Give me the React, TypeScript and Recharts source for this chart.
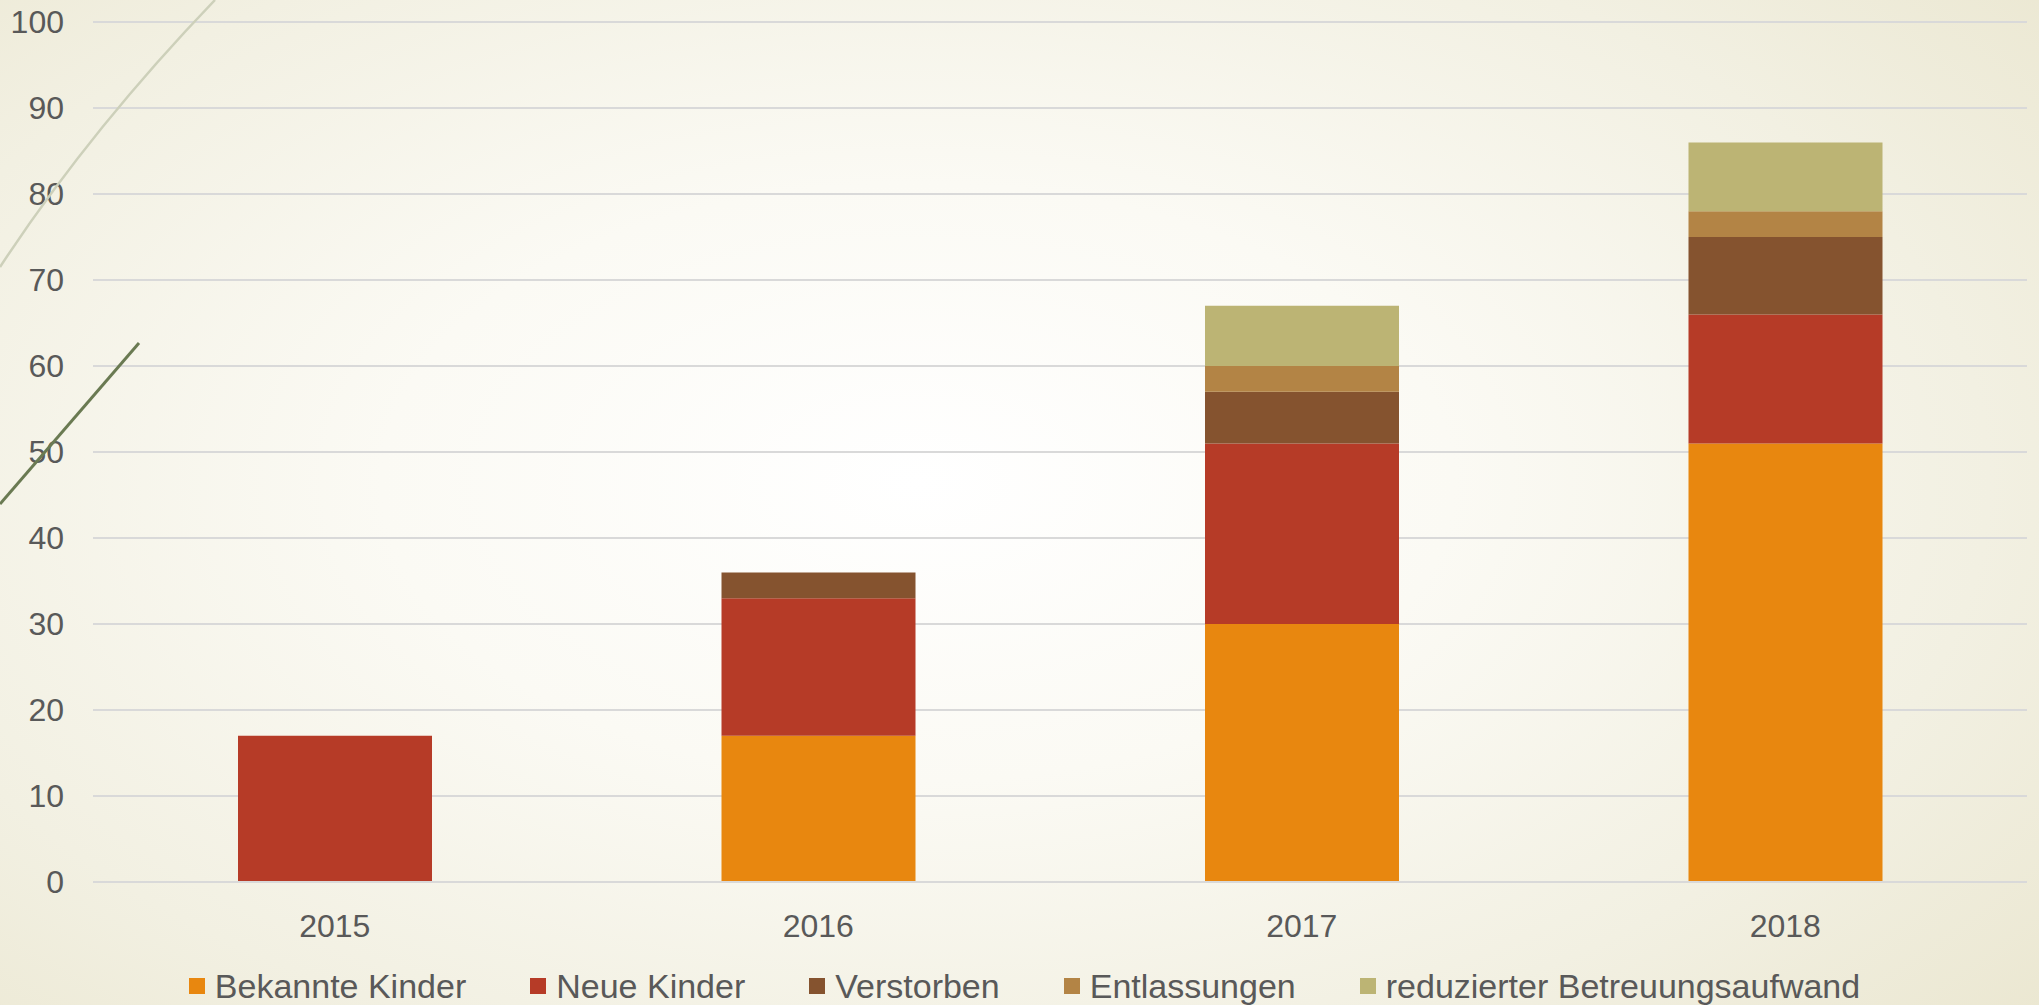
import React from "react";
import { Bar, BarChart, CartesianGrid, Legend, XAxis, YAxis } from "recharts";

const years = ["2015", "2016", "2017", "2018"];
const bekannteKinder = [0, 17, 30, 51];
const neueKinder = [17, 16, 21, 15];
const verstorben = [0, 3, 6, 9];
const entlassungen = [0, 0, 3, 3];
const reduziert = [0, 0, 7, 8];
const yTicks = [0, 10, 20, 30, 40, 50, 60, 70, 80, 90, 100];

const series = [
  { key: "bekannte", name: "Bekannte Kinder", color: "#E8870F", values: bekannteKinder },
  { key: "neue", name: "Neue Kinder", color: "#B63B27", values: neueKinder },
  { key: "verstorben", name: "Verstorben", color: "#85532F", values: verstorben },
  { key: "entlassungen", name: "Entlassungen", color: "#B38445", values: entlassungen },
  { key: "reduziert", name: "reduzierter Betreuungsaufwand", color: "#BCB474", values: reduziert },
];

const data = years.map((year, i) => {
  const row: Record<string, string | number> = { year };
  series.forEach((s) => {
    row[s.key] = s.values[i];
  });
  return row;
});

const FONT = "'Liberation Sans', Arial, sans-serif";
const TEXT = "#595959";

const renderLegend = () => (
  <div
    style={{
      display: "flex",
      justifyContent: "center",
      gap: 64,
      paddingTop: 26,
      paddingLeft: 22,
      fontFamily: FONT,
      fontSize: 34,
      color: TEXT,
      lineHeight: "36px",
    }}
  >
    {series.map((s) => (
      <div key={s.key} style={{ display: "flex", alignItems: "center" }}>
        <span
          style={{
            display: "inline-block",
            width: 16,
            height: 16,
            background: s.color,
            marginRight: 10,
          }}
        />
        <span>{s.name}</span>
      </div>
    ))}
  </div>
);

export default function App() {
  return (
    <div
      style={{
        position: "absolute",
        left: 0,
        top: 0,
        width: 2039,
        height: 1005,
        overflow: "hidden",
        background:
          "radial-gradient(ellipse 75% 85% at 45% 48%, #FFFFFF 0%, #FBFAF4 35%, #F2F0E2 70%, #EAE6CF 100%)",
      }}
    >
      <BarChart
        width={2039}
        height={1005}
        data={data}
        margin={{ top: 22, right: 12, left: 0, bottom: 0 }}
        barSize={194}
      >
        <CartesianGrid vertical={false} stroke="#D9D9D9" strokeWidth={2} />
        <XAxis
          dataKey="year"
          axisLine={{ stroke: "#D9D9D9", strokeWidth: 2 }}
          tickLine={false}
          tickMargin={26}
          height={60}
          tick={{ fill: TEXT, fontSize: 32, fontFamily: FONT }}
        />
        <YAxis
          domain={[0, 100]}
          ticks={yTicks}
          width={93}
          axisLine={false}
          tickLine={false}
          tickMargin={23}
          tick={{ fill: TEXT, fontSize: 32, fontFamily: FONT }}
        />
        <Legend verticalAlign="bottom" height={63} content={renderLegend} />
        {series.map((s) => (
          <Bar
            key={s.key}
            dataKey={s.key}
            name={s.name}
            stackId="a"
            fill={s.color}
            isAnimationActive={false}
          />
        ))}
      </BarChart>
      <svg
        width={2039}
        height={1005}
        style={{ position: "absolute", left: 0, top: 0, pointerEvents: "none" }}
      >
        <path d="M0,267 Q90,130 215,0" fill="none" stroke="#CDD0BA" strokeWidth={2.5} />
        <path d="M0,504 L139,343" fill="none" stroke="#6A7A52" strokeWidth={3} />
      </svg>
    </div>
  );
}
